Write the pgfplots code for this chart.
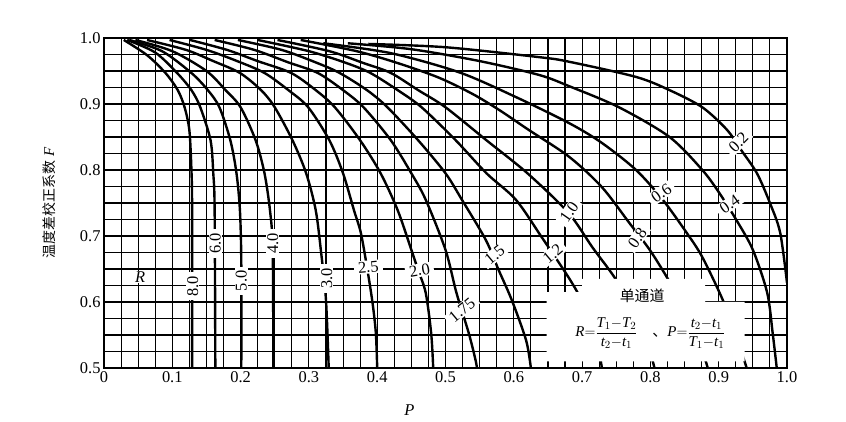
\documentclass[border=0pt]{standalone}
\usepackage{pgfplots}
\pgfplotsset{compat=1.18}
\usepackage{fontspec}
\setmainfont{Liberation Serif}
\newfontfamily\cjk{Noto Sans CJK SC}
\newcommand{\lbl}{\fontsize{16.5}{18}\selectfont}
\pgfplotsset{rc/.style={black, no markers, solid, line width=2.4bp, smooth, tension=0.5}}
\begin{document}
\begin{tikzpicture}
\begin{axis}[
  scale only axis, width=683bp, height=330bp,
  xmin=0, xmax=1, ymin=0.5, ymax=1.0,
  xtick={0,0.1,0.2,0.3,0.4,0.5,0.6,0.7,0.8,0.9,1.0},
  xticklabels={0,0.1,0.2,0.3,0.4,0.5,0.6,0.7,0.8,0.9,1.0},
  ytick={0.5,0.6,0.7,0.8,0.9,1.0},
  yticklabels={0.5,0.6,0.7,0.8,0.9,1.0},
  minor x tick num=3, minor y tick num=3,
  grid=both,
  grid style={black, line width=1.1bp},
  minor grid style={black, line width=1.1bp},
  major grid style={black, line width=1.1bp},
  major tick length=0pt, minor tick length=0pt,
  axis line style={black, line width=1.4bp},
  /pgf/number format/assume math mode=true,
  tick label style={font=\lbl},
  xlabel={\textit{P}},
  xlabel style={font=\lbl, at={(axis description cs:0.447,-0.127)}, anchor=center},
  ylabel={{\cjk\fontsize{14}{16}\selectfont 温度差校正系数}\ \textit{F}},
  ylabel style={font=\fontsize{15}{17}\selectfont, at={(axis description cs:-0.081,0.5)}, anchor=center},
]
\coordinate (sw) at (rel axis cs:0,0);
\coordinate (ne) at (rel axis cs:1,1);
% R = 8.0
\addplot[rc] coordinates {(0.029,0.997) (0.063,0.974) (0.090,0.947) (0.108,0.921) (0.118,0.895) (0.125,0.860) (0.128,0.80) (0.129,0.74) (0.129,0.5)};
% R = 6.0
\addplot[rc] coordinates {(0.034,0.997) (0.075,0.978) (0.107,0.947) (0.128,0.921) (0.141,0.895) (0.156,0.845) (0.160,0.795) (0.162,0.739) (0.163,0.5)};
% R = 5.0
\addplot[rc] coordinates {(0.037,0.997) (0.085,0.980) (0.128,0.947) (0.152,0.921) (0.169,0.895) (0.185,0.845) (0.194,0.795) (0.199,0.739) (0.201,0.66) (0.201,0.5)};
% R = 4.0
\addplot[rc] coordinates {(0.046,0.997) (0.10,0.980) (0.15,0.950) (0.178,0.921) (0.200,0.895) (0.222,0.845) (0.235,0.795) (0.243,0.739) (0.247,0.68) (0.248,0.5)};
% R = 3.0
\addplot[rc] coordinates {(0.063,0.997) (0.12,0.982) (0.16,0.965) (0.199,0.947) (0.230,0.921) (0.250,0.895) (0.276,0.845) (0.296,0.795) (0.310,0.739) (0.318,0.674) (0.325,0.603) (0.329,0.5)};
% R = 2.5
\addplot[rc] coordinates {(0.096,0.997) (0.15,0.982) (0.195,0.965) (0.235,0.947) (0.27,0.921) (0.299,0.895) (0.330,0.845) (0.350,0.795) (0.366,0.739) (0.376,0.705) (0.385,0.653) (0.393,0.60) (0.398,0.553) (0.400,0.5)};
% R = 2.0
\addplot[rc] coordinates {(0.126,0.997) (0.18,0.982) (0.225,0.965) (0.274,0.947) (0.31,0.921) (0.338,0.895) (0.375,0.845) (0.405,0.795) (0.430,0.739) (0.450,0.679) (0.460,0.648) (0.471,0.614) (0.479,0.553) (0.482,0.5)};
% R = 1.75
\addplot[rc] coordinates {(0.162,0.997) (0.22,0.982) (0.27,0.963) (0.313,0.947) (0.35,0.921) (0.38,0.895) (0.42,0.845) (0.45,0.795) (0.471,0.755) (0.500,0.679) (0.516,0.614) (0.534,0.553) (0.544,0.512) (0.546,0.5)};
% R = 1.5
\addplot[rc] coordinates {(0.196,0.997) (0.26,0.982) (0.31,0.963) (0.345,0.947) (0.385,0.921) (0.415,0.895) (0.46,0.845) (0.50,0.795) (0.524,0.755) (0.559,0.694) (0.578,0.648) (0.597,0.603) (0.618,0.542) (0.625,0.5)};
% R = 1.2
\addplot[rc] coordinates {(0.225,0.997) (0.30,0.980) (0.355,0.962) (0.39,0.947) (0.43,0.921) (0.465,0.895) (0.515,0.845) (0.56,0.795) (0.603,0.755) (0.641,0.698) (0.676,0.644) (0.693,0.615) (0.71,0.58) (0.722,0.54) (0.729,0.5)};
% R = 1.0
\addplot[rc] coordinates {(0.254,0.997) (0.33,0.980) (0.38,0.962) (0.42,0.947) (0.46,0.921) (0.50,0.895) (0.56,0.845) (0.62,0.795) (0.68,0.735) (0.715,0.683) (0.747,0.638) (0.775,0.59) (0.795,0.54) (0.806,0.5)};
% R = 0.8
\addplot[rc] coordinates {(0.288,0.997) (0.37,0.980) (0.43,0.962) (0.49,0.940) (0.54,0.915) (0.58,0.89) (0.62,0.862) (0.681,0.820) (0.729,0.774) (0.769,0.720) (0.799,0.679) (0.825,0.636) (0.85,0.59) (0.87,0.545) (0.884,0.5)};
% R = 0.6
\addplot[rc] coordinates {(0.321,0.992) (0.42,0.977) (0.52,0.948) (0.60,0.912) (0.681,0.871) (0.729,0.841) (0.779,0.800) (0.818,0.755) (0.853,0.705) (0.876,0.668) (0.906,0.603) (0.925,0.55) (0.941,0.5)};
% R = 0.4
\addplot[rc] coordinates {(0.357,0.992) (0.45,0.983) (0.55,0.965) (0.637,0.944) (0.681,0.927) (0.754,0.895) (0.828,0.850) (0.876,0.80) (0.901,0.765) (0.926,0.724) (0.950,0.679) (0.971,0.614) (0.979,0.553) (0.985,0.5)};
% R = 0.2
\addplot[rc] coordinates {(0.387,0.991) (0.50,0.986) (0.637,0.971) (0.681,0.964) (0.779,0.941) (0.828,0.921) (0.876,0.895) (0.912,0.861) (0.933,0.830) (0.956,0.795) (0.975,0.75) (0.990,0.705) (1.0,0.629)};
% white panel
\fill[white] (axis cs:0.648,0.51) -- (axis cs:0.648,0.615) -- (axis cs:0.70,0.615) -- (axis cs:0.70,0.635) -- (axis cs:0.88,0.635) -- (axis cs:0.88,0.60) -- (axis cs:0.938,0.60) -- (axis cs:0.938,0.51) -- cycle;
\node[font=\cjk\fontsize{15}{17}\selectfont] at (axis cs:0.788,0.610) {单通道};
\node[font=\fontsize{15}{17}\selectfont] at (axis cs:0.800,0.553) {$\textit{R}{=}\displaystyle\frac{\textit{T}_1{-}\textit{T}_2}{\textit{t}_2{-}\textit{t}_1}$\quad{\cjk 、}$\textit{P}{=}\displaystyle\frac{\textit{t}_2{-}\textit{t}_1}{\textit{T}_1{-}\textit{t}_1}$};
% curve labels
\begin{scope}[every node/.style={fill=white, inner xsep=4bp, inner ysep=1bp, font=\lbl}]
\node[rotate=90] at (axis cs:0.130,0.624) {8.0};
\node[rotate=90] at (axis cs:0.163,0.689) {6.0};
\node[rotate=90] at (axis cs:0.201,0.632) {5.0};
\node[rotate=90] at (axis cs:0.247,0.689) {4.0};
\node[rotate=90] at (axis cs:0.326,0.636) {3.0};
\node[rotate=5] at (axis cs:0.387,0.653) {2.5};
\node[rotate=10] at (axis cs:0.462,0.648) {2.0};
\node[rotate=40] at (axis cs:0.524,0.588) {1.75};
\node[rotate=40] at (axis cs:0.572,0.671) {1.5};
\node[rotate=40] at (axis cs:0.657,0.673) {1.2};
\node[rotate=55] at (axis cs:0.681,0.736) {1.0};
\node[rotate=55] at (axis cs:0.781,0.697) {0.8};
\node[rotate=35] at (axis cs:0.816,0.765) {0.6};
\node[rotate=35] at (axis cs:0.916,0.748) {0.4};
\node[rotate=45] at (axis cs:0.929,0.842) {0.2};
\node at (axis cs:0.053,0.638) {\textit{R}};
\end{scope}
\end{axis}
\pgfresetboundingbox
\path ([xshift=-104bp,yshift=-54bp]sw) rectangle ([xshift=59bp,yshift=38bp]ne);
\end{tikzpicture}
\end{document}
